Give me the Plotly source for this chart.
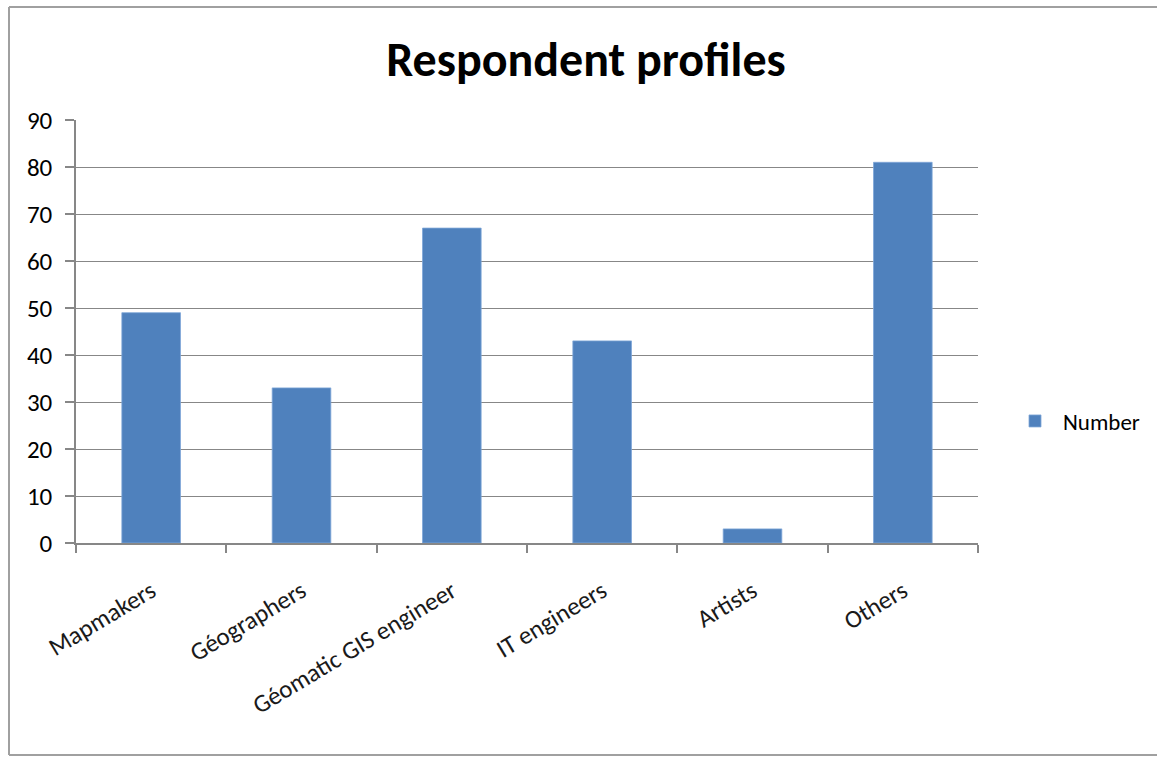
import plotly.graph_objects as go

categories = ["Mapmakers", "Géographers", "Géomatic GIS engineer", "IT engineers", "Artists", "Others"]
values = [49, 33, 67, 43, 3, 81]
series_name = "Number"
title_text = "Respondent profiles"

W, H = 1157, 763
PL, PR, PT, PB = 76, 978, 120, 543  # plot area pixels
FONT = "Carlito, Calibri, Lato, 'Open Sans', sans-serif"

def px_x(p):
    return (p - PL) / (PR - PL)

def px_y(p):
    return (PB - p) / (PB - PT)

fig = go.Figure()
fig.add_trace(go.Bar(
    x=categories, y=values, name=series_name,
    marker=dict(color="#4f81bd", line=dict(color="#7ea6d8", width=0.8)),
    showlegend=True,
))

fig.update_layout(
    width=W, height=H,
    margin=dict(l=PL, r=W - PR, t=PT, b=H - PB, autoexpand=False),
    paper_bgcolor="white", plot_bgcolor="white",
    font=dict(family=FONT, size=22, color="#000000"),
    bargap=0.61,
    title=dict(text="<b>" + title_text + "</b>", x=586 / W, xanchor="center",
               y=1 - 59 / H, yanchor="middle",
               font=dict(family=FONT, size=48, color="#000000")),
    showlegend=True,
    legend=dict(x=px_x(1007), y=px_y(421), xanchor="left", yanchor="middle",
                font=dict(family=FONT, size=23, color="#000000"),
                bgcolor="rgba(0,0,0,0)", itemwidth=46),
    xaxis=dict(
        showline=True, linecolor="#878787", linewidth=1.5,
        ticks="outside", tickson="boundaries", ticklen=8, tickcolor="#878787", tickwidth=1.5,
        tickangle=-31, tickfont=dict(family=FONT, size=25, color="#1a1a1a"),
        ticklabelstandoff=22,
        showgrid=False, mirror=False,
    ),
    yaxis=dict(
        range=[0, 90], dtick=10, tick0=0,
        showline=True, linecolor="#878787", linewidth=1.5,
        ticks="outside", ticklen=9, tickcolor="#878787", tickwidth=1.5,
        showgrid=True, gridcolor="#878787", gridwidth=1.2,
        zeroline=False, ticklabelstandoff=8,
        tickfont=dict(family=FONT, size=25, color="#000000"),
    ),
)

# outer chart frame: left, top and bottom edges
frame = dict(color="#a0a0a0", width=2)
fig.add_shape(type="line", xref="paper", yref="paper",
              x0=px_x(9), x1=px_x(9), y0=px_y(7), y1=px_y(755), line=frame, layer="below")
fig.add_shape(type="line", xref="paper", yref="paper",
              x0=px_x(9), x1=px_x(1157), y0=px_y(7), y1=px_y(7), line=frame, layer="below")
fig.add_shape(type="line", xref="paper", yref="paper",
              x0=px_x(9), x1=px_x(1157), y0=px_y(755), y1=px_y(755), line=frame, layer="below")

fig.write_html("out.html", config={"displayModeBar": False},
               post_script="document.body.style.margin='0';document.body.style.overflow='hidden';")
